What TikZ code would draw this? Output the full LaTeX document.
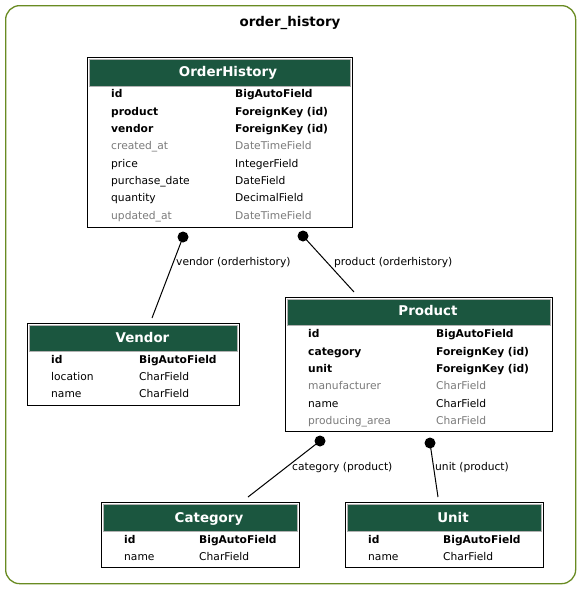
\documentclass[tikz,border=0pt]{standalone}
\usepackage{fontspec}
\setmainfont{DejaVu Sans}
\begin{document}
\begin{tikzpicture}[x=1pt,y=-1pt,
  frame/.style={draw=oliveframe, line width=1.3pt, rounded corners=14pt},
  tbl/.style={draw=black, line width=1.1pt, fill=white, anchor=north west, inner sep=0pt},
  hdr/.style={fill=hdrgreen, draw=gray!60, line width=0.6pt, anchor=north west, inner sep=0pt},
  htxt/.style={anchor=base, text=white, font=\fontsize{13.4}{15}\selectfont\bfseries, inner sep=0pt},
  ttl/.style={anchor=base, font=\fontsize{13.4}{15}\selectfont\bfseries, inner sep=0pt},
  fk/.style={anchor=base west, font=\fontsize{10.7}{12}\selectfont\bfseries, inner sep=0pt},
  fld/.style={anchor=base west, font=\fontsize{10.7}{12}\selectfont, inner sep=0pt},
  dim/.style={anchor=base west, font=\fontsize{10.7}{12}\selectfont, text=dimgray, inner sep=0pt},
  lbl/.style={anchor=base west, font=\fontsize{10.7}{12}\selectfont, inner sep=0pt},
  rel/.style={draw=black, line width=1pt},
  dot/.style={circle, fill=black, inner sep=0pt, minimum size=11pt}
]
\definecolor{oliveframe}{HTML}{698B22}
\definecolor{hdrgreen}{HTML}{1B563F}
\definecolor{dimgray}{HTML}{7B7B7B}
\useasboundingbox (0,0) rectangle (580,589);
\node[frame, minimum width=570pt, minimum height=578pt, anchor=north west, inner sep=0pt] (cluster) at (5,5) {};
\node[ttl] (title) at (290,26) {order\_history};

% OrderHistory
\node[tbl, minimum width=265pt, minimum height=170pt] (oh) at (87,57) {};
\node[hdr, minimum width=261pt, minimum height=27pt] (ohh) at (89,59) {};
\node[htxt] (oht) at (228,76) {OrderHistory};
\node[fk] (oh1a) at (111,97) {id};            \node[fk] (oh1b) at (235,97) {BigAutoField};
\node[fk] (oh2a) at (111,115) {product};      \node[fk] (oh2b) at (235,115) {ForeignKey (id)};
\node[fk] (oh3a) at (111,132) {vendor};       \node[fk] (oh3b) at (235,132) {ForeignKey (id)};
\node[dim] (oh4a) at (111,149) {created\_at}; \node[dim] (oh4b) at (235,149) {DateTimeField};
\node[fld] (oh5a) at (111,167) {price};       \node[fld] (oh5b) at (235,167) {IntegerField};
\node[fld] (oh6a) at (111,184) {purchase\_date}; \node[fld] (oh6b) at (235,184) {DateField};
\node[fld] (oh7a) at (111,201) {quantity};    \node[fld] (oh7b) at (235,201) {DecimalField};
\node[dim] (oh8a) at (111,219) {updated\_at}; \node[dim] (oh8b) at (235,219) {DateTimeField};

% Vendor
\node[tbl, minimum width=212pt, minimum height=82pt] (vd) at (27,323) {};
\node[hdr, minimum width=208pt, minimum height=26pt] (vdh) at (29,325) {};
\node[htxt] (vdt) at (142.5,342) {Vendor};
\node[fk] (vd1a) at (51,363) {id};         \node[fk] (vd1b) at (139,363) {BigAutoField};
\node[fld] (vd2a) at (51,380) {location};  \node[fld] (vd2b) at (139,380) {CharField};
\node[fld] (vd3a) at (51,397) {name};      \node[fld] (vd3b) at (139,397) {CharField};

% Product
\node[tbl, minimum width=267pt, minimum height=134pt] (pr) at (285,297) {};
\node[hdr, minimum width=263pt, minimum height=26pt] (prh) at (287,299) {};
\node[htxt] (prt) at (428,315) {Product};
\node[fk] (pr1a) at (308,337) {id};          \node[fk] (pr1b) at (436,337) {BigAutoField};
\node[fk] (pr2a) at (308,355) {category};    \node[fk] (pr2b) at (436,355) {ForeignKey (id)};
\node[fk] (pr3a) at (308,372) {unit};        \node[fk] (pr3b) at (436,372) {ForeignKey (id)};
\node[dim] (pr4a) at (308,389) {manufacturer}; \node[dim] (pr4b) at (436,389) {CharField};
\node[fld] (pr5a) at (308,407) {name};       \node[fld] (pr5b) at (436,407) {CharField};
\node[dim] (pr6a) at (308,424) {producing\_area}; \node[dim] (pr6b) at (436,424) {CharField};

% Category
\node[tbl, minimum width=198pt, minimum height=65pt] (ct) at (101,502) {};
\node[hdr, minimum width=194pt, minimum height=27pt] (cth) at (103,504) {};
\node[htxt] (ctt) at (209,522) {Category};
\node[fk] (ct1a) at (124,543) {id};       \node[fk] (ct1b) at (199,543) {BigAutoField};
\node[fld] (ct2a) at (124,560) {name};    \node[fld] (ct2b) at (199,560) {CharField};

% Unit
\node[tbl, minimum width=198pt, minimum height=65pt] (un) at (345,502) {};
\node[hdr, minimum width=194pt, minimum height=27pt] (unh) at (347,504) {};
\node[htxt] (unt) at (453,522) {Unit};
\node[fk] (un1a) at (368,543) {id};       \node[fk] (un1b) at (443,543) {BigAutoField};
\node[fld] (un2a) at (368,560) {name};    \node[fld] (un2b) at (443,560) {CharField};

% relations
\node[dot] (d1) at (183,237) {};
\coordinate (e1) at (152,318);
\draw[rel] (d1.center) -- (e1);
\node[lbl] (l1) at (176,265) {vendor (orderhistory)};

\node[dot] (d2) at (303,236) {};
\coordinate (e2) at (354,292);
\draw[rel] (d2.center) -- (e2);
\node[lbl] (l2) at (334,265) {product (orderhistory)};

\node[dot] (d3) at (320,441) {};
\coordinate (e3) at (248,497);
\draw[rel] (d3.center) -- (e3);
\node[lbl] (l3) at (292,470) {category (product)};

\node[dot] (d4) at (430,443) {};
\coordinate (e4) at (438,497);
\draw[rel] (d4.center) -- (e4);
\node[lbl] (l4) at (435,470) {unit (product)};
\end{tikzpicture}
\end{document}
